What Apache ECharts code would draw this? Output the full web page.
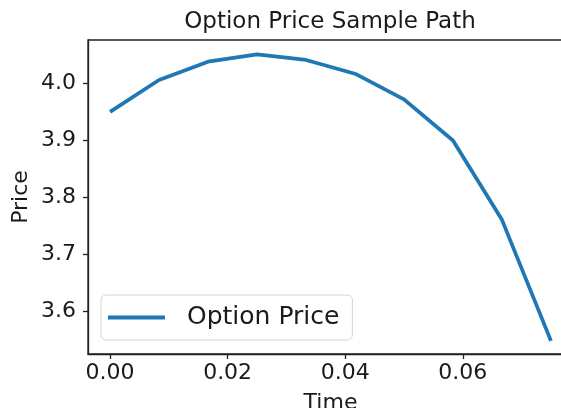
<!DOCTYPE html>
<html>
<head>
<meta charset="utf-8">
<script src="https://cdn.jsdelivr.net/npm/echarts@6/dist/echarts.min.js"></script>
<style>
  html, body { margin: 0; padding: 0; background: #fff; }
  #chart { width: 561px; height: 408px; }
</style>
</head>
<body>
<div id="chart"></div>
<script>
// time steps and sampled option price
const times = [0, 0.008333, 0.016667, 0.025, 0.033333, 0.041667, 0.05, 0.058333, 0.066667, 0.075]
const prices = [3.949, 4.005, 4.037, 4.050, 4.040, 4.016, 3.971, 3.899, 3.760, 3.548]

const xTicks = [0, 0.02, 0.04, 0.06]
const yTicks = [3.6, 3.7, 3.8, 3.9, 4.0]

const font = 'DejaVu Sans'
const axisColor = '#222'

const chart = echarts.init(document.getElementById('chart'))

const option = {
  animation: false,
  graphic: [{
    type: 'text',
    x: 330,
    y: 22,
    style: {
      text: 'Option Price Sample Path',
      font: '23px "DejaVu Sans"',
      fill: '#1a1a1a',
      align: 'center',
      verticalAlign: 'middle'
    }
  }],
  grid: {
    left: 88,
    top: 40,
    width: 485,
    bottom: 54,
    outerBoundsMode: 'none',
    containLabel: false,
    show: true,
    borderColor: axisColor,
    borderWidth: 1.3,
    backgroundColor: 'transparent'
  },
  legend: {
    left: 101,
    top: 295,
    orient: 'vertical',
    icon: 'rect',
    itemWidth: 57,
    itemHeight: 4,
    padding: [7, 13, 7, 7],
    borderColor: '#d4d4d4',
    borderWidth: 1,
    borderRadius: 5,
    textStyle: {
      fontFamily: font,
      fontSize: 25,
      color: '#1a1a1a',
      lineHeight: 31,
      padding: [0, 0, 0, 17]
    },
    data: ['Option Price']
  },
  xAxis: {
    type: 'value',
    min: -0.00375,
    max: 0.07875,
    name: 'Time',
    nameLocation: 'middle',
    nameGap: 38,
    nameMoveOverlap: false,
    nameTextStyle: { fontFamily: font, fontSize: 22, color: '#1a1a1a' },
    axisLine: { show: true, onZero: false, lineStyle: { color: axisColor, width: 1.3 } },
    axisTick: { show: true, length: 5, customValues: xTicks, lineStyle: { color: axisColor, width: 1.3 } },
    axisLabel: {
      customValues: xTicks,
      formatter: v => v.toFixed(2),
      fontFamily: font,
      fontSize: 22,
      color: '#1a1a1a',
      margin: 8
    },
    splitLine: { show: false }
  },
  yAxis: {
    type: 'value',
    min: 3.525,
    max: 4.075,
    name: 'Price',
    nameLocation: 'middle',
    nameGap: 56,
    nameMoveOverlap: false,
    nameTextStyle: { fontFamily: font, fontSize: 22, color: '#1a1a1a' },
    axisLine: { show: true, onZero: false, lineStyle: { color: axisColor, width: 1.3 } },
    axisTick: { show: true, length: 5, customValues: yTicks, lineStyle: { color: axisColor, width: 1.3 } },
    axisLabel: {
      customValues: yTicks,
      formatter: v => v.toFixed(1),
      fontFamily: font,
      fontSize: 22,
      color: '#1a1a1a',
      margin: 12
    },
    splitLine: { show: false }
  },
  series: [{
    name: 'Option Price',
    type: 'line',
    data: times.map((t, i) => [t, prices[i]]),
    showSymbol: false,
    itemStyle: { color: '#1f77b4' },
    lineStyle: { color: '#1f77b4', width: 3.75 }
  }]
}

chart.setOption(option)
</script>
</body>
</html>
